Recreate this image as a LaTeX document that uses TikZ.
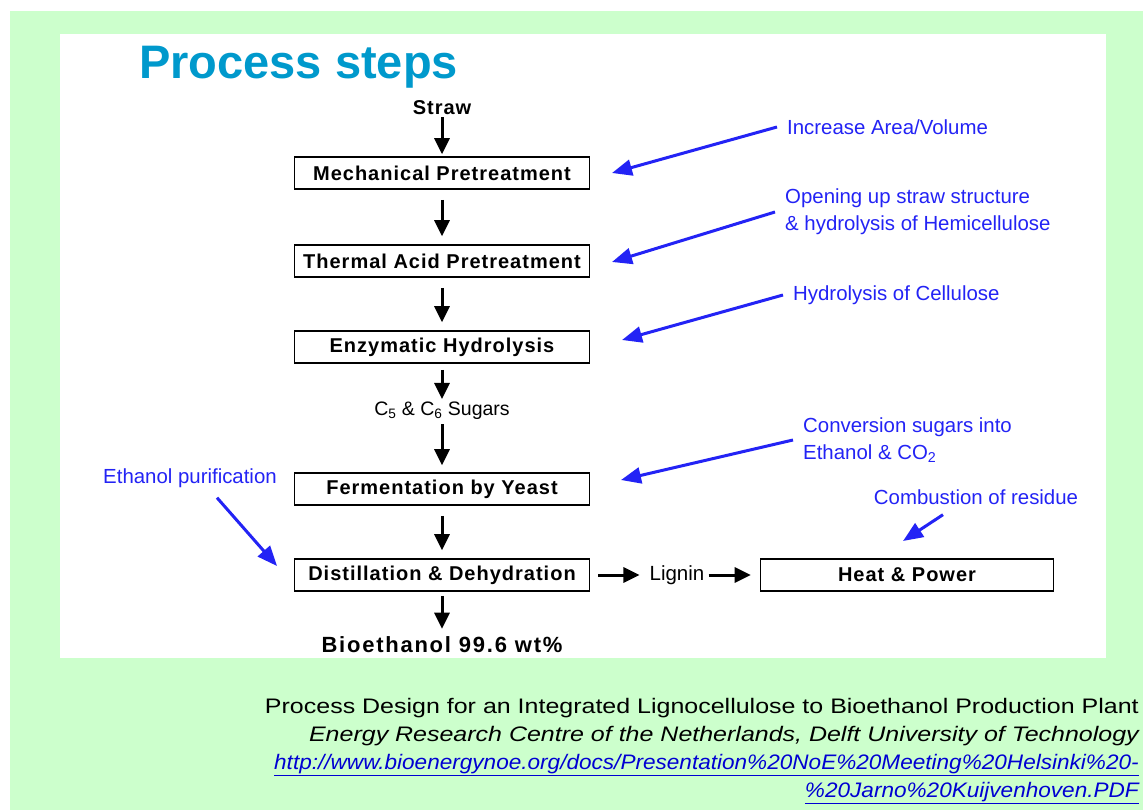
\documentclass[tikz,border=0pt]{standalone}
\usepackage{fontspec}
\setmainfont{Liberation Sans}
\newfontfamily\footfont[FakeStretch=1.19]{Liberation Sans}
\newfontfamily\linkfont[FakeStretch=1.075]{Liberation Sans}
\usetikzlibrary{arrows.meta,positioning}
\definecolor{bggreen}{RGB}{204,255,204}
\definecolor{titleblue}{RGB}{0,153,204}
\definecolor{noteblue}{RGB}{35,35,245}
\definecolor{linkblue}{RGB}{0,0,210}
\newcommand{\boxfont}{\fontsize{20}{24}\selectfont\bfseries\addfontfeatures{LetterSpace=5}}
\newcommand{\notefont}{\fontsize{20.4}{27}\selectfont}

\begin{document}
\begin{tikzpicture}[x=1pt,y=-1pt]
\tikzstyle{stepbox}=[rectangle, draw=black, line width=1.6pt, minimum width=295pt, minimum height=32pt, inner sep=0pt, font=\boxfont]
\tikzstyle{plain}=[inner sep=0pt, font=\fontsize{19.5}{23}\selectfont]
\tikzstyle{strong}=[inner sep=0pt, font=\fontsize{22}{26}\selectfont\bfseries\addfontfeatures{LetterSpace=8}]
\tikzstyle{note}=[text=noteblue, inner sep=10pt, align=left, font=\notefont]
\tikzstyle{flow}=[-{Triangle[length=16pt,width=15pt]}, line width=3pt, shorten >=8pt, shorten <=10pt]
\tikzstyle{hint}=[-{Triangle[length=20pt,width=16pt]}, line width=3pt, draw=noteblue]

  % background
  \useasboundingbox (0,0) rectangle (1143,810);
  \fill[bggreen] (10,11) rectangle (1143,810);
  \fill[white] (60,34) rectangle (1106,658);

  \node[anchor=west, inner sep=0pt, text=titleblue, font=\fontsize{47}{50}\selectfont\bfseries] (title) at (139,67) {Process steps};

  % main chain
  \node[stepbox] (mech) at (442,173) {Mechanical Pretreatment};
  \node[inner sep=0pt, font=\boxfont] (straw) [above of =mech, node distance=65pt] {Straw};
  \node[stepbox] (thermal) [below of =mech, node distance=88pt] {Thermal Acid Pretreatment};
  \node[stepbox] (enzym)   [below of =thermal, node distance=86pt] {Enzymatic Hydrolysis};
  \node[plain]   (sugars)  [below of =enzym, node distance=64pt] {C\textsubscript{5} \& C\textsubscript{6} Sugars};
  \node[stepbox] (ferment) [below of =sugars, node distance=78pt] {Fermentation by Yeast};
  \node[stepbox] (distill) [below of =ferment, node distance=86pt] {Distillation \& Dehydration};
  \node[strong]  (bio)     [below of =distill, node distance=70pt] {Bioethanol 99.6 wt\%};

  \node[plain, font=\fontsize{20.5}{24}\selectfont] (lignin) [right of =distill, node distance=235pt] {Lignin};
  \node[stepbox, minimum width=293pt] (heat) [right of =distill, node distance=465pt] {Heat \& Power};

  \draw[flow, shorten >=2pt, shorten <=2pt] (straw) -- (mech);
  \draw[flow] (mech) -- (thermal);
  \draw[flow] (thermal) -- (enzym);
  \draw[flow, shorten >=3pt, shorten <=6pt] (enzym) -- (sugars);
  \draw[flow, shorten >=7pt, shorten <=4pt] (sugars) -- (ferment);
  \draw[flow] (ferment) -- (distill);
  \draw[flow, shorten >=8pt, shorten <=4pt] (distill) -- (bio);
  \draw[flow, shorten >=10pt, shorten <=8pt] (distill) -- (lignin);
  \draw[flow, shorten >=9pt, shorten <=4pt] (lignin) -- (heat);

  % blue notes
  \node[note, anchor=west] (area)    at (777,127) {Increase Area/Volume};
  \node[note, anchor=west] (opening) at (775,212) {Opening up straw structure\\\& hydrolysis of Hemicellulose};
  \node[note, anchor=west] (cellul)  at (783,295) {Hydrolysis of Cellulose};
  \node[note, anchor=west] (conv)    at (793,440) {Conversion sugars into\\Ethanol \& CO\textsubscript{2}};
  \node[note] (comb)  at (976,497) {Combustion of residue};
  \node[note] (purif) at (190,478) {Ethanol purification};

  \coordinate (tipA) at (612,173);
  \coordinate (tipB) at (612,262);
  \coordinate (tipC) at (622,340);
  \coordinate (tipD) at (621,480);
  \coordinate (tipE) at (903,541);
  \coordinate (tipF) at (277,566);

  \draw[hint] (area.west) -- (tipA);
  \draw[hint] (opening.west) -- (tipB);
  \draw[hint] (cellul.west) -- (tipC);
  \draw[hint] (conv.west) -- (tipD);
  \draw[hint] ([xshift=-33pt]comb.south) -- (tipE);
  \draw[hint] ([xshift=27pt]purif.south) -- (tipF);

  % source
  \node[anchor=north east, align=right, inner sep=0pt, font=\footfont\fontsize{21}{28}\selectfont] (source) at (1139,698)
    {Process Design for an Integrated Lignocellulose to Bioethanol Production Plant\\
     \itshape Energy Research Centre of the Netherlands, Delft University of Technology\\
     \linkfont\itshape\color{linkblue}\underline{http://www.bioenergynoe.org/docs/Presentation\%20NoE\%20Meeting\%20Helsinki\%20-}\\
     \linkfont\itshape\color{linkblue}\underline{\%20Jarno\%20Kuijvenhoven.PDF}};
\end{tikzpicture}
\end{document}
